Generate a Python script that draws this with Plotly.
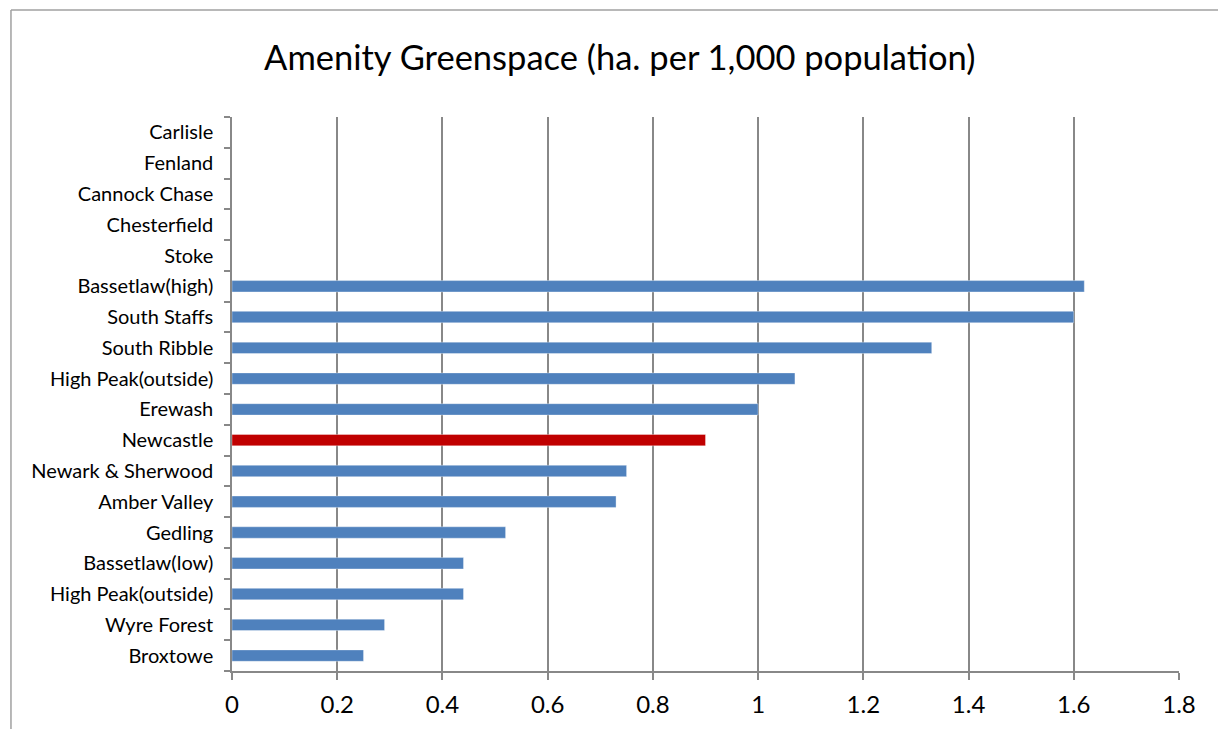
import plotly.graph_objects as go

# categories listed bottom to top
areas = ['Broxtowe', 'Wyre Forest', 'High Peak(outside)', 'Bassetlaw(low)', 'Gedling',
         'Amber Valley', 'Newark & Sherwood', 'Newcastle', 'Erewash', 'High Peak(outside)',
         'South Ribble', 'South Staffs', 'Bassetlaw(high)', 'Stoke', 'Chesterfield',
         'Cannock Chase', 'Fenland', 'Carlisle']
values = [0.25, 0.29, 0.44, 0.44, 0.52, 0.73, 0.75, 0.90, 1.00, 1.07,
          1.33, 1.60, 1.62, None, None, None, None, None]
highlight = 'Newcastle'

x_ticks = [0, 0.2, 0.4, 0.6, 0.8, 1.0, 1.2, 1.4, 1.6, 1.8]
x_labels = ['0', '0.2', '0.4', '0.6', '0.8', '1', '1.2', '1.4', '1.6', '1.8']

positions = list(range(len(areas)))
colors = ['#C00000' if a == highlight else '#4F81BD' for a in areas]

fig = go.Figure()
fig.add_trace(go.Bar(
    x=values,
    y=positions,
    orientation='h',
    marker=dict(color=colors, line=dict(color='rgba(255,255,255,0.35)', width=1)),
    hoverinfo='x+text',
    text=areas,
    textposition='none',
))

grid = '#888888'
# page has an 8px body margin, so margins are shifted by 8px
fig.update_layout(
    width=1226,
    height=729,
    paper_bgcolor='white',
    plot_bgcolor='white',
    font=dict(family='Lato, Open Sans, sans-serif', color='black', size=20),
    title=dict(text='Amenity Greenspace (ha. per 1,000 population)',
               x=0.499, xref='container', xanchor='center',
               y=0.931, yref='container', yanchor='middle',
               font=dict(size=34.5, color='black')),
    margin=dict(l=224, r=55, t=109, b=66),
    bargap=0.63,
    showlegend=False,
    xaxis=dict(
        range=[0, 1.8],
        tickvals=x_ticks,
        ticktext=x_labels,
        showgrid=True,
        gridcolor=grid,
        gridwidth=1.5,
        showline=True,
        linecolor=grid,
        linewidth=1.5,
        ticks='outside',
        ticklen=7,
        tickcolor=grid,
        tickwidth=1.5,
        ticklabelstandoff=4,
        tickfont=dict(size=24),
        zeroline=False,
        fixedrange=True,
    ),
    yaxis=dict(
        range=[-0.5, len(areas) - 0.5],
        tickvals=positions,
        ticktext=areas,
        showgrid=False,
        showline=True,
        linecolor=grid,
        linewidth=1.5,
        ticks='',
        ticklabelstandoff=13,
        zeroline=False,
        minor=dict(
            tickvals=[p - 0.5 for p in positions] + [len(areas) - 0.5],
            ticks='outside',
            ticklen=6,
            tickcolor=grid,
            tickwidth=1.5,
            showgrid=False,
        ),
        fixedrange=True,
    ),
    shapes=[
        dict(type='line', xref='paper', yref='paper',
             x0=-0.2334, x1=-0.2334, y0=1.193, y1=-0.2,
             line=dict(color='#A0A0A0', width=1.5)),
        dict(type='line', xref='paper', yref='paper',
             x0=-0.2334, x1=1.1, y0=1.193, y1=1.193,
             line=dict(color='#A0A0A0', width=1.5)),
    ],
)

fig.write_html('out.html')
